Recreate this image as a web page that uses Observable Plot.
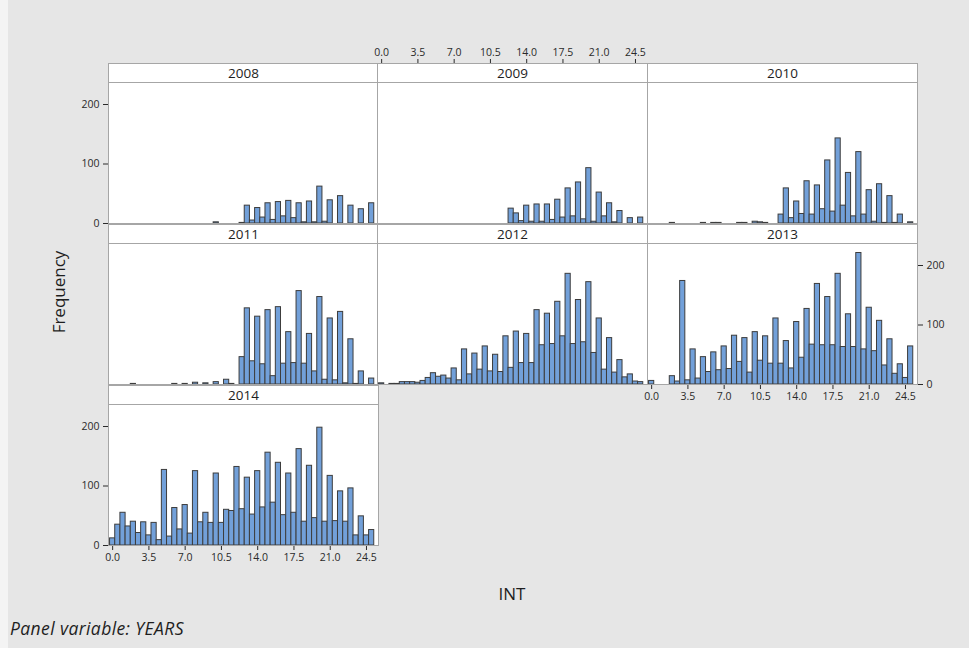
<!DOCTYPE html>
<html><head><meta charset="utf-8">
<script src="https://cdn.jsdelivr.net/npm/d3@7"></script>
<script src="https://cdn.jsdelivr.net/npm/@observablehq/plot@0.6"></script>
<style>
body{margin:0;background:#fff;}
#fig{position:relative;width:969px;height:648px;background:#e6e6e6;overflow:hidden;font-family:"Open Sans",sans-serif;}
#edge{position:absolute;left:0;top:0;width:8px;height:648px;background:#f4f4f4;}
.hdr{position:absolute;height:20px;background:#fff;border:1px solid #a6a6a6;box-sizing:border-box;text-align:center;font-size:13.5px;line-height:18px;color:#1e1e1e;}
.pl{position:absolute;}
.lbl{position:absolute;white-space:nowrap;color:#1e1e1e;}
</style></head><body><div id="fig"><div id="edge"></div></div><script>
// Bin midpoints of INT (width 0.5)
const bins = [0,0.5,1,1.5,2,2.5,3,3.5,4,4.5,5,5.5,6,6.5,7,7.5,8,8.5,9,9.5,10,10.5,11,11.5,12,12.5,13,13.5,14,14.5,15,15.5,16,16.5,17,17.5,18,18.5,19,19.5,20,20.5,21,21.5,22,22.5,23,23.5,24,24.5,25];
const years = ["2008","2009","2010","2011","2012","2013","2014"];
const f2008 = [0,0,0,0,0,0,0,0,0,0, 0,0,0,0,0,0,0,0,0,0, 2,0,0,0,0,1,30,5,26,10, 34,6,36,12,38,9,34,2,37,2, 62,3,39,0,46,0,30,0,24,0, 34];
const f2009 = [0,0,0,0,0,0,0,0,0,0, 0,0,0,0,0,0,0,0,0,0, 0,0,0,0,0,25,17,4,30,3, 32,3,32,6,40,10,59,12,69,7, 93,3,52,12,34,2,21,0,9,0, 10];
const f2010 = [0,0,0,0,1,0,0,0,0,0, 1,0,1,1,0,0,0,1,1,0, 3,2,1,0,0,15,59,9,37,16, 71,15,64,24,106,20,143,30,85,12, 120,15,56,3,66,1,46,1,15,0, 2];
const f2011 = [0,0,0,0,1,0,0,0,0,0, 0,0,1,0,1,0,3,0,2,0, 4,0,8,1,0,46,128,39,114,34, 125,14,130,35,88,36,157,35,85,22, 147,8,111,7,122,2,76,1,22,0, 10];
const f2012 = [2,0,1,1,4,4,4,3,6,11, 19,13,15,10,27,7,59,17,52,25, 64,22,50,21,81,28,89,36,85,36, 125,66,119,68,139,81,186,68,142,71, 172,53,111,25,78,20,41,12,17,5, 4];
const f2013 = [6,0,0,0,14,5,174,7,59,10, 46,21,54,24,64,26,82,38,78,20, 88,40,81,35,111,35,73,27,105,45, 127,67,169,66,147,66,186,63,118,63, 221,59,129,56,107,32,76,18,34,11, 64];
const f2014 = [12,35,55,32,40,21,39,17,38,9, 127,15,63,27,68,20,125,39,55,38, 121,38,60,58,132,61,114,52,125,64, 156,72,139,51,121,55,162,40,134,46, 198,40,117,41,91,40,96,17,49,17, 26];
const freqs = [f2008,f2009,f2010,f2011,f2012,f2013,f2014];
const xTicks = [0,3.5,7,10.5,14,17.5,21,24.5];
const yTicks = [0,100,200];

// panel layout (grid position and which axes it carries, Minitab style)
const panelRow = [0,0,0,1,1,1,2];
const panelCol = [0,1,2,0,1,2,0];
const xAxisAt  = [null,"top",null,null,null,"bottom","bottom"];
const yAxisAt  = ["left",null,null,null,null,"right","left"];

const colX = [108,377,647], rowY = [63,224,385];
const cellW = 270, cellH = 160;
const pxPerUnit = 0.595;
const mL = 40, mR = 40, mT = 30, mB = 30;
const fig = document.getElementById("fig");

years.forEach((yr, i) => {
  const data = bins.map((b, k) => ({b, n: freqs[i][k]})).filter(d => d.n > 0);
  const chart = Plot.plot({
    width: cellW + mL + mR, height: cellH + mT + mB,
    marginLeft: mL, marginRight: mR, marginTop: mT, marginBottom: mB,
    style: {background: "transparent", overflow: "visible", fontFamily: "'Open Sans', sans-serif", fontSize: "10.5px", color: "#2a2a2a"},
    x: {domain: [-0.4, 25.66], axis: xAxisAt[i], ticks: xTicks, tickFormat: d3.format(".1f"), tickSize: 5, tickPadding: 3, label: null},
    y: {domain: [0, cellH / pxPerUnit], axis: yAxisAt[i], ticks: yTicks, tickSize: 5, tickPadding: 4, label: null},
    marks: [
      Plot.frame({fill: "white", stroke: null}),
      Plot.rect(data, {x1: d => d.b - 0.25, x2: d => d.b + 0.25, y1: d => 0, y2: "n", fill: "#72a0d9", stroke: "#3d3d3d", strokeWidth: 1}),
      Plot.frame({stroke: "#a6a6a6"})
    ]
  });
  chart.classList.add("pl");
  chart.style.left = (colX[panelCol[i]] - mL) + "px";
  chart.style.top = (rowY[panelRow[i]] - mT) + "px";
  fig.appendChild(chart);
  const h = document.createElement("div");
  h.className = "hdr";
  h.style.left = colX[panelCol[i]] + "px";
  h.style.top = rowY[panelRow[i]] + "px";
  h.style.width = (cellW + 1) + "px";
  h.textContent = yr;
  fig.appendChild(h);
});

function label(text, css) {
  const d = document.createElement("div");
  d.className = "lbl";
  d.textContent = text;
  Object.assign(d.style, css);
  fig.appendChild(d);
}
label("Frequency", {left: "58px", top: "292px", transform: "translate(-50%,-50%) rotate(-90deg)", fontSize: "17px"});
label("INT", {left: "512px", top: "593px", transform: "translate(-50%,-50%)", fontSize: "17px"});
label("Panel variable: YEARS", {left: "10px", top: "628px", transform: "translate(0,-50%)", fontSize: "17.5px", fontStyle: "italic", letterSpacing: "0.4px"});
</script></body></html>
